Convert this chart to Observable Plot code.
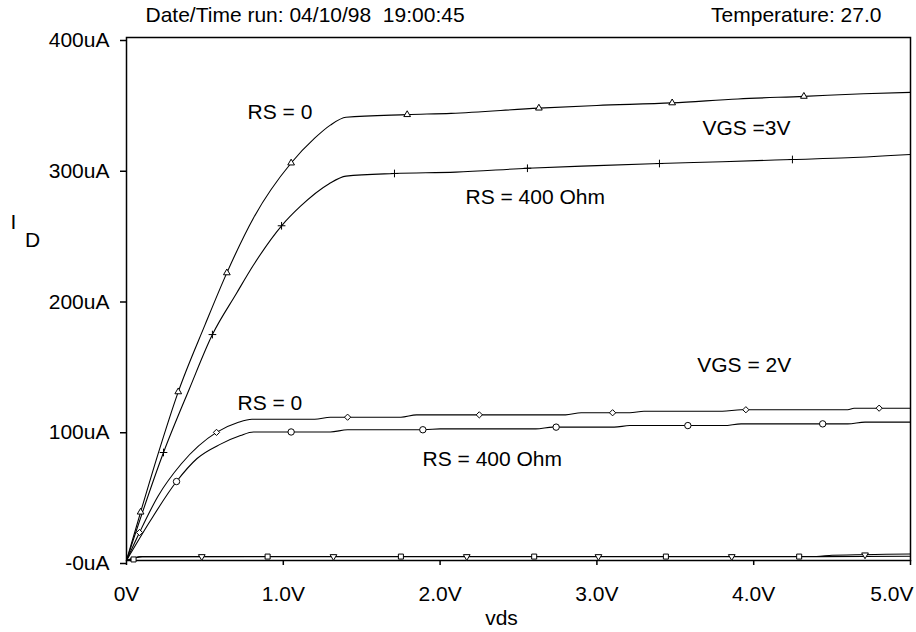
<!DOCTYPE html>
<html>
<head>
<meta charset="utf-8">
<script src="https://cdn.jsdelivr.net/npm/d3@7"></script>
<script src="https://cdn.jsdelivr.net/npm/@observablehq/plot@0.6"></script>
<style>
  html, body { margin: 0; padding: 0; background: #fff; }
  svg text { white-space: pre; }
</style>
</head>
<body>
<div id="chart"></div>
<script>
// ---- tick values and labels ----
const xTicks = [0, 1, 2, 3, 4, 5];
const xTickLabels = ["0V", "1.0V", "2.0V", "3.0V", "4.0V", "5.0V"];
const yTicks = [0, 100, 200, 300, 400];
const yTickLabels = ["-0uA", "100uA", "200uA", "300uA", "400uA"];

// ---- VGS = 3V, RS = 0 (triangles) ----
const vgs3rs0Vds = [0, 0.09, 0.2, 0.33, 0.5, 0.64, 0.81, 1.05, 1.2, 1.3, 1.4, 1.79, 2.07, 2.63, 3.0, 3.48, 3.9, 4.32, 4.7, 5.0];
const vgs3rs0Id  = [0, 37, 81, 129, 180, 220, 262, 304, 323, 333, 339, 341, 342, 346, 348, 350, 353, 355, 357, 358];
const vgs3rs0MarkVds = [0.09, 0.33, 0.64, 1.05, 1.79, 2.63, 3.48, 4.32];
const vgs3rs0MarkId  = [37, 129, 220, 304, 341, 346, 350, 355];

// ---- VGS = 3V, RS = 400 Ohm (plus) ----
const vgs3rs400Vds = [0, 0.236, 0.4, 0.548, 0.7, 0.81, 0.989, 1.11, 1.29, 1.4, 1.709, 2.1, 2.557, 3.0, 3.399, 3.8, 4.247, 4.6, 5.0];
const vgs3rs400Id  = [0, 82.6, 131, 172.8, 204, 226, 256, 271, 288, 294, 296, 297, 300, 302, 303.6, 305, 306.7, 308, 310.5];
const vgs3rs400MarkVds = [0.236, 0.548, 0.989, 1.709, 2.557, 3.399, 4.247];
const vgs3rs400MarkId  = [82.6, 172.8, 256, 296, 300, 303.6, 306.7];

// ---- VGS = 2V, RS = 0 (diamonds) ----
const vgs2rs0Vds = [0, 0.083, 0.2, 0.35, 0.574, 0.71, 0.8, 1.2, 1.3, 1.75, 1.85, 2.80, 2.90, 3.21, 3.30, 3.80, 3.92, 4.60, 4.64, 5.0];
const vgs2rs0Id  = [0, 21.4, 49, 74, 98, 105.5, 108, 108, 109.6, 109.6, 111.4, 111.4, 113.0, 113.0, 114.2, 114.2, 115.3, 115.3, 116.5, 116.5];
const vgs2rs0MarkVds = [0.083, 0.574, 1.41, 2.25, 3.10, 3.95, 4.80];
const vgs2rs0MarkId  = [21.4, 98, 109.6, 111.4, 113.0, 115.3, 116.5];

// ---- VGS = 2V, RS = 400 Ohm (circles) ----
const vgs2rs400Vds = [0, 0.15, 0.319, 0.45, 0.6, 0.727, 0.81, 1.30, 1.41, 1.9, 2.0, 2.61, 2.72, 3.11, 3.21, 3.81, 3.92, 4.60, 4.71, 5.0];
const vgs2rs400Id  = [0, 30, 60.4, 78, 89, 95.6, 98.3, 98.3, 100, 100, 100.7, 100.7, 102.0, 102.0, 103.2, 103.2, 104.5, 104.5, 105.8, 105.8];
const vgs2rs400MarkVds = [0.319, 1.05, 1.89, 2.74, 3.58, 4.44];
const vgs2rs400MarkId  = [60.4, 98.3, 100, 102.0, 103.2, 104.5];

// ---- low curves (squares / down triangles) ----
const lowSqVds = [0, 0.1, 4.4, 5.0];
const lowSqId  = [0, 3.0, 3.0, 3.3];
const lowSqMarkVds = [0.045, 0.90, 1.75, 2.60, 3.44, 4.29];
const lowSqMarkId  = [0.8, 3.0, 3.0, 3.0, 3.0, 3.0];
const lowTriVds = [0, 0.1, 4.4, 4.5, 5.0];
const lowTriId  = [0, 3.0, 3.1, 4.0, 5.0];
const lowTriMarkVds = [0.48, 1.32, 2.17, 3.01, 3.86, 4.71];
const lowTriMarkId  = [3.0, 3.0, 3.0, 3.0, 3.0, 4.3];

// ---- annotation texts (anchored in data units) ----
const noteTexts = ["RS = 0", "VGS =3V", "RS = 400 Ohm", "VGS = 2V", "RS = 0", "RS = 400 Ohm"];
const noteVds   = [0.772, 3.673, 2.162, 3.64, 0.708, 1.888];
const noteId    = [342.6, 330.4, 277.6, 149, 120, 77.2];

const headerLeft = "Date/Time run: 04/10/98  19:00:45";
const headerRight = "Temperature: 27.0";
const xLabel = "vds";

const zip = (xs, ys) => xs.map((x, i) => ({vds: x, id: ys[i]}));

const lineStyle = {x: "vds", y: "id", stroke: "black", strokeWidth: 1.1, curve: "monotone-x"};
const dotStyle = {x: "vds", y: "id", stroke: "black", fill: "white", strokeWidth: 1};

const lastX = xTicks[xTicks.length - 1];
const fmtX = d => (d === lastX ? "" : xTickLabels[xTicks.indexOf(d)]);
const fmtY = d => yTickLabels[yTicks.indexOf(d)];

const marks = [
  Plot.axisX(xTicks, {tickFormat: fmtX, tickSize: 5, tickPadding: 21, label: null, strokeWidth: 1.5}),
  Plot.text([{vds: lastX, t: xTickLabels[xTicks.length - 1]}],
    {x: "vds", text: "t", frameAnchor: "bottom", textAnchor: "end", lineAnchor: "top", dx: 3, dy: 26, fill: "black"}),
  Plot.axisY(yTicks, {tickFormat: fmtY, tickSize: 6, tickPadding: 11, dy: 3, label: null, strokeWidth: 1.5}),
  Plot.frame({stroke: "black", strokeWidth: 1.5}),
  Plot.line(zip(vgs3rs0Vds, vgs3rs0Id), lineStyle),
  Plot.line(zip(vgs3rs400Vds, vgs3rs400Id), lineStyle),
  Plot.line(zip(vgs2rs0Vds, vgs2rs0Id), lineStyle),
  Plot.line(zip(vgs2rs400Vds, vgs2rs400Id), lineStyle),
  Plot.line(zip(lowSqVds, lowSqId), lineStyle),
  Plot.line(zip(lowTriVds, lowTriId), lineStyle),
  Plot.dot(zip(vgs3rs0MarkVds, vgs3rs0MarkId), {...dotStyle, symbol: "triangle2", r: 3.2}),
  Plot.dot(zip(vgs3rs400MarkVds, vgs3rs400MarkId), {...dotStyle, symbol: "plus", r: 2.6, fill: "none"}),
  Plot.dot(zip(vgs2rs0MarkVds, vgs2rs0MarkId), {...dotStyle, symbol: "diamond2", r: 2.8}),
  Plot.dot(zip(vgs2rs400MarkVds, vgs2rs400MarkId), {...dotStyle, symbol: "circle", r: 3.2}),
  Plot.dot(zip(lowSqMarkVds, lowSqMarkId), {...dotStyle, symbol: "square2", r: 3.2}),
  Plot.dot(zip(lowTriMarkVds, lowTriMarkId), {...dotStyle, symbol: "triangle2", r: 3.2, rotate: 180}),
  Plot.text(noteTexts.map((t, i) => ({t, vds: noteVds[i], id: noteId[i]})),
    {x: "vds", y: "id", text: "t", textAnchor: "start", lineAnchor: "middle", fill: "black"}),
  Plot.text([headerLeft], {frameAnchor: "top-left", textAnchor: "start", lineAnchor: "middle", dx: 19, dy: -22, fill: "black"}),
  Plot.text([headerRight], {frameAnchor: "top-right", textAnchor: "end", lineAnchor: "middle", dx: -29, dy: -22, fill: "black"}),
  Plot.text(["I"], {frameAnchor: "top-left", textAnchor: "middle", lineAnchor: "middle", dx: -113, dy: 185, fill: "black"}),
  Plot.text(["D"], {frameAnchor: "top-left", textAnchor: "middle", lineAnchor: "middle", dx: -94, dy: 203, fill: "black"}),
  Plot.text([xLabel], {frameAnchor: "bottom", textAnchor: "middle", lineAnchor: "middle", dx: -17, dy: 58, fill: "black"})
];

const chart = Plot.plot({
  width: 916,
  height: 632,
  marginLeft: 126,
  marginRight: 6,
  marginTop: 37,
  marginBottom: 72,
  x: {domain: [0, 5]},
  y: {domain: [0, 400]},
  style: {fontFamily: "'Liberation Sans', Arial, sans-serif", fontSize: "21px", color: "black", background: "white"},
  marks
});
document.getElementById("chart").appendChild(chart);
</script>
</body>
</html>
